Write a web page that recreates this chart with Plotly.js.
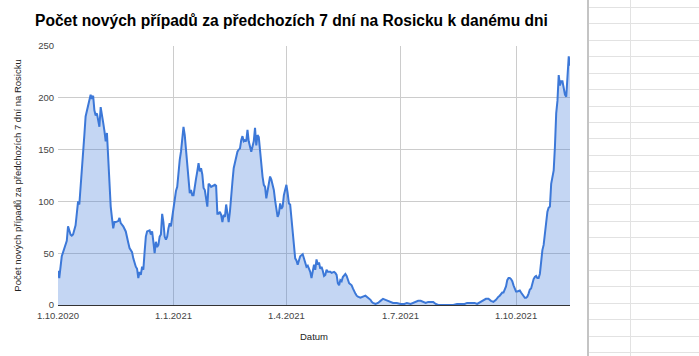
<!DOCTYPE html>
<html><head><meta charset="utf-8">
<script src="https://cdn.plot.ly/plotly-3.0.1.min.js"></script>
<style>
html,body{margin:0;padding:0;background:#fff;overflow:hidden}
#wrap{position:relative;width:699px;height:356px}
#chart{position:absolute;left:0;top:0;width:699px;height:356px}
#sheet{position:absolute;left:587px;top:0;width:112px;height:356px;pointer-events:none}
.hl{position:absolute;left:0;right:0;height:1px;background:#e2e2e2}
</style></head><body>
<div id="wrap"><div id="chart"></div><div id="sheet"></div></div>
<script>
const startDate = '2020-10-01';
const dayOffsets = [0,1,3,5,6,7,8,9,10,11,12,14,15,16,17,18,19,20,21,22,23,24,25,26,27,28,29,30,31,32,33,34,35,36,37,38,39,40,41,42,43,44,45,46,48,49,50,52,54,55,56,57,59,60,61,62,63,64,65,66,67,68,69,70,71,73,74,75,76,77,78,79,80,81,82,83,84,85,86,87,88,89,90,91,92,93,94,95,96,97,98,99,100,101,102,103,104,105,106,107,108,109,110,111,112,113,114,115,116,117,118,119,120,121,122,124,125,126,127,128,129,130,131,132,133,134,135,136,137,138,139,140,142,143,144,145,146,147,148,149,150,151,152,153,154,156,157,158,159,160,161,162,163,164,165,166,167,168,169,170,171,172,173,174,175,176,177,178,179,180,181,182,183,184,185,186,187,188,189,190,191,192,193,195,196,197,198,199,200,201,202,203,204,205,206,207,208,209,210,211,212,213,214,215,217,218,220,221,222,223,224,225,226,227,228,229,230,231,232,233,234,235,236,237,238,239,241,243,245,247,248,249,250,251,253,255,257,259,261,263,265,267,270,273,276,278,281,283,285,287,289,291,293,295,297,299,301,303,305,310,315,318,321,324,326,329,332,334,337,339,341,343,345,347,349,351,352,354,355,357,358,359,360,361,362,363,364,365,366,368,369,370,371,372,373,374,375,376,377,378,379,380,381,382,383,384,385,386,387,388,389,390,391,392,393,394,395,396,397,398,399,400,401,402,403,404,405,406,407,408];
const cases = [33,26,47,55,58,62,76,71,68,67,68,77,93,100,97,112,135,145,164,182,187,193,200,203,199,202,188,183,185,179,172,191,185,176,168,158,166,140,118,95,84,74,80,80,81,84,79,76,71,64,60,55,51,45,40,37,35,26,32,29,37,34,51,66,71,72,68,71,61,50,61,56,58,66,68,88,80,66,63,66,74,79,76,84,93,103,110,114,132,140,148,164,172,164,148,135,119,108,111,106,106,116,122,129,137,129,132,126,113,111,103,95,117,116,114,115,116,115,88,88,90,87,80,87,85,97,85,80,90,109,119,132,143,148,150,151,159,163,158,159,158,169,158,153,148,158,171,154,164,162,148,132,124,116,114,103,111,116,124,121,117,111,101,93,85,88,98,93,95,106,112,116,108,98,97,85,71,56,45,43,39,43,47,49,44,40,37,38,35,32,26,32,39,34,44,39,41,35,37,33,28,29,34,32,32,31,32,31,29,21,19,24,23,27,29,30,28,25,21,20,19,16,13,11,9,8,7,8,9,7,6,5,3,2,1,2,4,6,5,4,3,2,2,1,1,2,1,2,3,4,4,3,2,3,3,3,1,0,0,0,0,1,1,1,2,2,2,1,3,5,6,6,4,3,5,8,9,12,12,18,24,26,26,25,23,19,16,13,13,14,12,10,8,7,7,8,11,15,16,21,25,27,28,26,26,30,43,53,58,70,80,90,94,95,117,124,130,153,185,197,222,212,216,216,208,203,201,220,240,231];
const tickDates = ['2020-10-01','2021-01-01','2021-04-01','2021-07-01','2021-10-01'];
const tickLabels = ['1.10.2020','1.1.2021','1.4.2021','1.7.2021','1.10.2021'];
const yTicks = [0,50,100,150,200,250];

const t0 = Date.parse(startDate + 'T00:00:00Z');
const dates = dayOffsets.map(d => new Date(t0 + d*86400000).toISOString().slice(0,10));

const FONT = 'Arial, "Liberation Sans", sans-serif';
const trace = {
  x: dates, y: cases, type: 'scatter', mode: 'lines',
  line: {color: '#3c78d8', width: 2, shape: 'linear'},
  fill: 'tozeroy', fillcolor: 'rgba(60,120,216,0.3)',
  hoverinfo: 'skip'
};
const layout = {
  width: 699, height: 356,
  margin: {l: 58, r: 129, t: 46, b: 51},
  paper_bgcolor: '#fff', plot_bgcolor: '#fff',
  showlegend: false,
  font: {family: FONT, size: 9.5, color: '#444'},
  title: {
    text: '<b>Počet nových případů za předchozích 7 dní na Rosicku k danému dni</b>',
    font: {family: FONT, size: 15.6, color: '#000'},
    xref: 'container', x: 35/699, xanchor: 'left',
    yref: 'container', y: 1 - 21/356, yanchor: 'middle'
  },
  xaxis: {
    type: 'date',
    range: [dates[0], dates[dates.length-1]],
    tickmode: 'array', tickvals: tickDates, ticktext: tickLabels,
    showgrid: true, gridcolor: '#cccccc', gridwidth: 1,
    showline: true, linecolor: '#333', linewidth: 1,
    zeroline: false, ticks: '',
    ticklabelstandoff: 2,
    tickfont: {family: FONT, size: 9.5, color: '#444'},
    title: {text: 'Datum', font: {family: FONT, size: 9.5, color: '#222'}, standoff: 12},
    automargin: false
  },
  yaxis: {
    range: [0, 250],
    tickmode: 'array', tickvals: yTicks,
    showgrid: true, gridcolor: '#cccccc', gridwidth: 1,
    zeroline: false, showline: false, ticks: '',
    ticklabelstandoff: 3,
    tickfont: {family: FONT, size: 9.5, color: '#444'},
    title: {text: 'Počet nových případů za předchozích 7 dní na Rosicku', font: {family: FONT, size: 9.5, color: '#222'}, standoff: 14},
    automargin: false
  }
};
Plotly.newPlot('chart', [trace], layout, {staticPlot: true, displayModeBar: false});

// spreadsheet cells visible to the right of the chart
const sheet = document.getElementById('sheet');
const vl = document.createElement('div');
vl.style.cssText = 'position:absolute;left:0;top:0;width:2px;height:356px;background:#c4c4c4';
sheet.appendChild(vl);
const vl2 = document.createElement('div');
vl2.style.cssText = 'position:absolute;left:43px;top:0;width:1px;height:356px;background:#e2e2e2';
sheet.appendChild(vl2);
for (let i = 0; i < 22; i++) {
  const h = document.createElement('div');
  h.className = 'hl';
  h.style.left = '2px';
  h.style.top = (7 + i * 16.43).toFixed(1) + 'px';
  sheet.appendChild(h);
}
</script>
</body></html>
